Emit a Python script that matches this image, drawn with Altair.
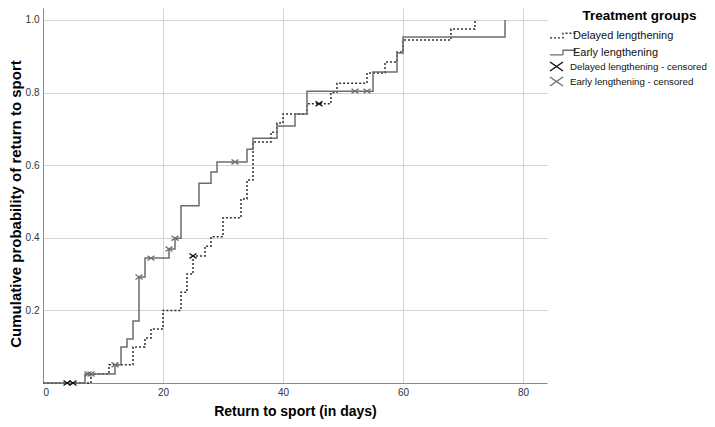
import altair as alt
import pandas as pd

# ---- data ----
line_entries = ["Delayed lengthening", "Early lengthening"]
cens_entries = ["Delayed lengthening - censored", "Early lengthening - censored"]

delayed_days = [0, 8, 11, 15, 17, 18, 20, 23, 24, 25, 27, 28, 30, 33, 34, 35, 38, 39, 40, 44,
                48, 49, 54, 57, 59, 60, 68, 72]
delayed_vals = [0, 0.025, 0.05, 0.099, 0.124, 0.149, 0.2, 0.25, 0.30, 0.35, 0.377, 0.403, 0.455,
                0.507, 0.559, 0.664, 0.691, 0.716, 0.741, 0.769, 0.80, 0.826, 0.854, 0.884, 0.912,
                0.945, 0.975, 1.0]

early_days = [0, 7, 12, 13, 14, 15, 16, 17, 21, 22, 23, 26, 28, 29, 34, 35, 39, 42, 44, 55, 59, 60, 77]
early_vals = [0, 0.025, 0.05, 0.099, 0.121, 0.171, 0.292, 0.344, 0.369, 0.399, 0.488, 0.55, 0.581,
              0.609, 0.644, 0.674, 0.708, 0.741, 0.804, 0.857, 0.909, 0.953, 1.0]

delayed_cens_days = [4, 5, 25, 46]
delayed_cens_vals = [0, 0, 0.35, 0.769]

early_cens_days = [7.5, 8, 12, 16, 18, 21, 22, 32, 52, 54]
early_cens_vals = [0.025, 0.025, 0.05, 0.292, 0.344, 0.369, 0.399, 0.609, 0.804, 0.804]

x_ticks = [0, 20, 40, 60, 80]
y_ticks = [0.2, 0.4, 0.6, 0.8, 1.0]

# ---- styles ----
line_colors = ["#2e2e2e", "#6c6c6c"]
cens_colors = ["#111111", "#687272"]
step_path = "M-1,0.35H1V-0.35H3"
x_path = "M-1,-0.7L1,0.7M-1,0.7L1,-0.7"
dashes = [[2, 2], [1, 0]]

lines = pd.concat([
    pd.DataFrame({"day": delayed_days, "p": delayed_vals, "entry": line_entries[0]}),
    pd.DataFrame({"day": early_days, "p": early_vals, "entry": line_entries[1]}),
])
cens = pd.concat([
    pd.DataFrame({"day": delayed_cens_days, "p": delayed_cens_vals, "entry": cens_entries[0]}),
    pd.DataFrame({"day": early_cens_days, "p": early_cens_vals, "entry": cens_entries[1]}),
])

legend_lines = alt.Legend(
    title=None, orient="none", legendX=506, legendY=20,
    labelColor="#111", labelFontSize=11, symbolSize=169, symbolType=step_path,
    symbolStrokeWidth=1.3, rowPadding=4, labelOffset=9, symbolFillColor="transparent",
)
legend_cens = alt.Legend(
    title=None, orient="none", legendX=506, legendY=51,
    labelColor="#111", labelFontSize=9.7, symbolSize=169,
    symbolStrokeWidth=1.4, rowPadding=0, labelOffset=6, symbolFillColor="transparent",
)

xenc = alt.X("day:Q", scale=alt.Scale(domain=[0, 84], nice=False),
             axis=alt.Axis(values=x_ticks, title="Return to sport (in days)", format="d",
                           labelPadding=4, titlePadding=7, titleFontSize=14))
yenc = alt.Y("p:Q", scale=alt.Scale(domain=[0, 1.033], nice=False),
             axis=alt.Axis(values=y_ticks, title="Cumulative probability of return to sport",
                           format=".1f", labelPadding=4, titlePadding=1.5, titleFontSize=15,
                           titleY=195.5))

line_layer = alt.Chart(lines).mark_line(interpolate="step-after", strokeWidth=1.5).encode(
    x=xenc, y=yenc,
    stroke=alt.Stroke("entry:N", scale=alt.Scale(domain=line_entries, range=line_colors),
                      legend=legend_lines),
    strokeDash=alt.StrokeDash("entry:N", scale=alt.Scale(domain=line_entries, range=dashes),
                              legend=legend_lines),
)
point_layer = alt.Chart(cens).mark_point(filled=False, size=49, strokeWidth=1.3, opacity=1).encode(
    x=xenc, y=yenc,
    color=alt.Color("entry:N", scale=alt.Scale(domain=cens_entries, range=cens_colors),
                    legend=legend_cens),
    shape=alt.Shape("entry:N", scale=alt.Scale(domain=cens_entries, range=[x_path, x_path]),
                    legend=legend_cens),
)

chart = alt.layer(line_layer, point_layer).properties(
    width=504, height=375,
    autosize=alt.AutoSizeParams(type="none"),
    padding={"left": 35, "top": 0, "right": 160, "bottom": 36},
    title=alt.TitleParams(text="Treatment groups", anchor="start", orient="top", dx=574, dy=21,
                          baseline="middle", fontSize=13.5, fontWeight="bold", color="#000",
                          offset=0),
).configure(font="Liberation Sans").configure_view(stroke=None).configure_axis(
    ticks=False, grid=True, gridColor="#d3d3d3", gridWidth=1, domainColor="#8a8a8a",
    labelFontSize=10, labelColor="#333", titleFontWeight="bold", titleColor="#000",
)

chart.save("out.html", embed_options={"renderer": "svg", "actions": False})
